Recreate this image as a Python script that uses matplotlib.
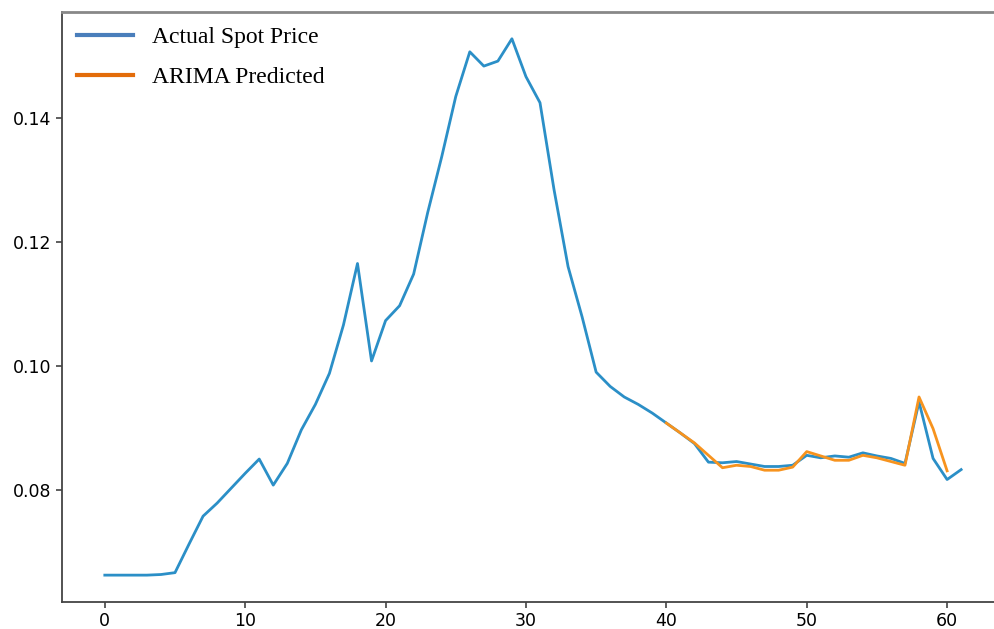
import matplotlib
matplotlib.use("Agg")
import matplotlib.pyplot as plt
from matplotlib.lines import Line2D

# actual spot price, index 0..61
actual = [0.0663, 0.0663, 0.0663, 0.0663, 0.0664, 0.0667, 0.0713, 0.0758, 0.0779, 0.0803,
          0.0827, 0.0850, 0.0808, 0.0843, 0.0897, 0.0938, 0.0988, 0.1066, 0.1165, 0.1008,
          0.1073, 0.1097, 0.1148, 0.1247, 0.1337, 0.1434, 0.1506, 0.1483, 0.1491, 0.1527,
          0.1466, 0.1424, 0.1284, 0.1160, 0.1079, 0.0990, 0.0967, 0.0950, 0.0938, 0.0924,
          0.0908, 0.0892, 0.0875, 0.0845, 0.0844, 0.0846, 0.0842, 0.0838, 0.0838, 0.0840,
          0.0856, 0.0852, 0.0855, 0.0853, 0.0860, 0.0855, 0.0851, 0.0843, 0.0942, 0.0851,
          0.0817, 0.0833]

# ARIMA prediction, index 40..60
pred_start = 40
predicted = [0.0908, 0.0892, 0.0876, 0.0856, 0.0836, 0.0840, 0.0838, 0.0832, 0.0832, 0.0837,
             0.0862, 0.0855, 0.0848, 0.0848, 0.0856, 0.0852, 0.0846, 0.0840, 0.0950, 0.0899,
             0.0831]

labels = ["Actual Spot Price", "ARIMA Predicted"]
yticks = [0.08, 0.10, 0.12, 0.14]

blue = "#2b8fc7"
orange = "#f7931e"

fig = plt.figure(figsize=(9.95, 6.29), dpi=100)
ax = fig.add_axes([0.0623, 0.043, 0.9467, 0.938])

ax.plot(range(len(actual)), actual, color=blue, lw=2.0)
ax.plot(range(pred_start, pred_start + len(predicted)), predicted, color=orange, lw=2.0)

ax.set_yticks(yticks)
ax.set_xticks([0, 10, 20, 30, 40, 50, 60])
ax.tick_params(labelsize=12.5, length=4.5, width=1.1, color="#333333", pad=3)

for side in ["left", "bottom"]:
    ax.spines[side].set_color("#444444")
    ax.spines[side].set_linewidth(1.3)
ax.spines["top"].set_color("#888888")
ax.spines["top"].set_linewidth(2)

handles = [Line2D([], [], color="#4a7ebb", lw=3),
           Line2D([], [], color="#e36c0a", lw=3)]
ax.legend(handles, labels, loc="upper left", frameon=False,
          prop={"family": "Liberation Serif", "size": 17},
          handlelength=2.37, handletextpad=0.8, labelspacing=0.78,
          borderaxespad=0.3, bbox_to_anchor=(-0.0016, 1.0035))

fig.savefig("out.png", dpi=100)
